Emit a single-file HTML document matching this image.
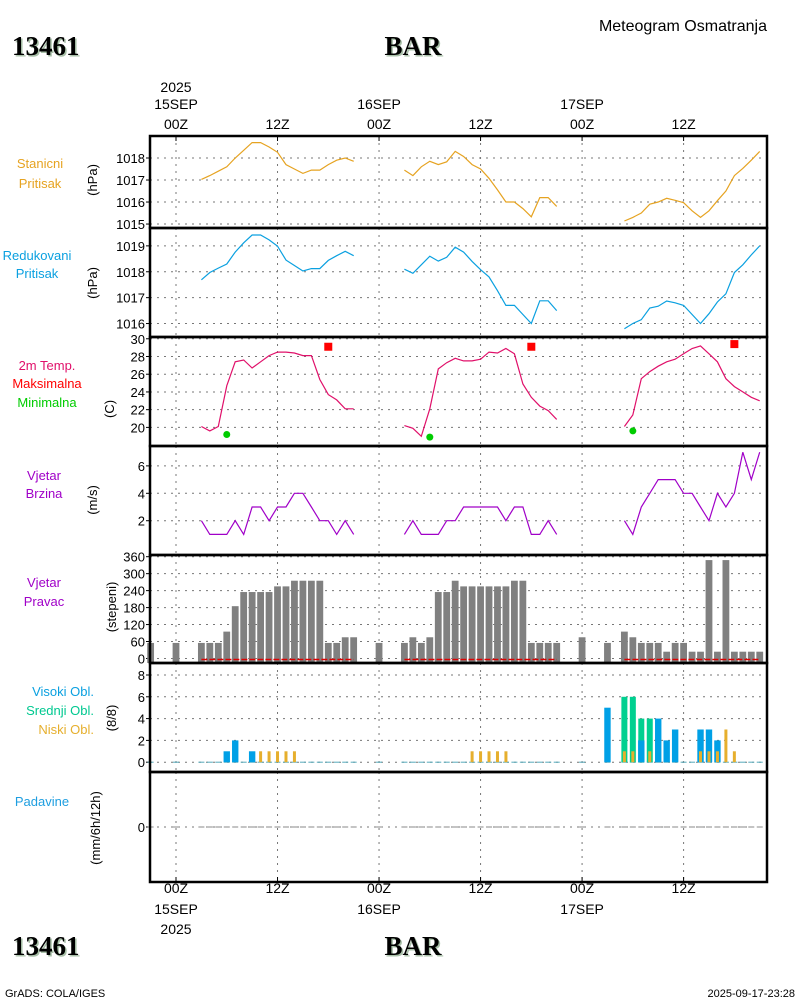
<!DOCTYPE html>
<html><head><meta charset="utf-8"><style>
body{margin:0;background:#fff}
svg{display:block}
</style></head><body>
<svg id="c" width="800" height="1000" viewBox="0 0 800 1000" font-family="Liberation Sans, sans-serif"></svg>
<script>
// ---------- data ----------
const day1H=[3,4,5,6,7,8,9,10,11,12,13,14,15,16,17,18,19,20,21];
const day2H=[27,28,29,30,31,32,33,34,35,36,37,38,39,40,41,42,43,44,45];
const day3H=[53,54,55,56,57,58,59,60,61,62,63,64,65,66,67,68,69];
const stnP1=[1017.03,1017.2,1017.4,1017.6,1018.0,1018.35,1018.7,1018.7,1018.5,1018.26,1017.7,1017.5,1017.3,1017.45,1017.45,1017.7,1017.9,1018.0,1017.85];
const stnP2=[1017.45,1017.2,1017.6,1017.85,1017.7,1017.83,1018.3,1018.07,1017.7,1017.5,1017.08,1016.55,1016.0,1016.0,1015.7,1015.33,1016.2,1016.2,1015.8];
const stnP3=[1015.14,1015.3,1015.5,1015.9,1016.0,1016.17,1016.08,1015.97,1015.6,1015.3,1015.6,1016.06,1016.5,1017.2,1017.53,1017.9,1018.3];
const redP1=[1017.69,1017.97,1018.14,1018.3,1018.76,1019.12,1019.42,1019.42,1019.23,1018.99,1018.45,1018.24,1018.03,1018.12,1018.12,1018.44,1018.62,1018.79,1018.62];
const redP2=[1018.1,1017.94,1018.27,1018.6,1018.41,1018.56,1018.95,1018.76,1018.4,1018.08,1017.8,1017.27,1016.7,1016.7,1016.35,1016.0,1016.88,1016.88,1016.5];
const redP3=[1015.8,1016.0,1016.15,1016.6,1016.67,1016.87,1016.8,1016.7,1016.35,1016.0,1016.38,1016.83,1017.15,1017.97,1018.27,1018.65,1019.0];
const temp1=[20.1,19.6,20.1,24.7,27.4,27.6,26.7,27.4,28.1,28.5,28.5,28.4,28.1,28.1,25.4,23.7,23.1,22.1,22.1];
const temp2=[20.2,19.9,19.0,22.1,26.6,27.3,27.8,27.5,27.5,27.7,28.5,28.4,28.9,28.3,24.9,23.4,22.4,21.9,20.9];
const temp3=[20.1,21.4,25.5,26.3,26.9,27.4,27.7,28.3,28.9,29.2,28.3,27.4,25.5,24.6,24.0,23.4,23.0];
const maxH=[18,42,66], maxT=[29.1,29.1,29.4];
const minH=[6,30,54], minT=[19.2,18.9,19.6];
const wind1=[2,1,1,1,2,1,3,3,2,3,3,4,4,3,2,2,1,2,1];
const wind2=[1,2,1,1,1,2,2,3,3,3,3,3,2,3,3,1,1,2,1];
const wind3=[2,1,3,4,5,5,5,4,4,3,2,4,3,4,7,5,7];
const dirH=[-3,0,3,4,5,6,7,8,9,10,11,12,13,14,15,16,17,18,19,20,21,24,27,28,29,30,31,32,33,34,35,36,37,38,39,40,41,42,43,44,45,48,51,53,54,55,56,57,58,59,60,61,62,63,64,65,66,67,68,69];
const dirV=[55,55,55,55,55,95,185,235,235,235,235,255,255,275,275,275,275,55,55,75,75,55,55,75,55,75,235,235,275,255,255,255,255,255,255,275,275,55,55,55,55,75,55,95,75,55,55,55,24,55,55,24,24,348,24,348,24,24,24,24];
const cloudH=[6,7,9,10,11,12,13,14,35,36,37,38,39,51,53,54,55,56,57,58,59,62,63,64,65,66];
const highC=[1,2,1,0,0,0,0,0,0,0,0,0,0,5,0,0,2,0,4,2,3,3,3,2,0,0];
const midC =[0,0,0,0,0,0,0,0,0,0,0,0,0,0,6,6,4,4,0,0,0,0,0,0,0,0];
const lowC =[0,0,0,1,1,1,1,1,1,1,1,1,1,0,1,1,0,1,0,0,0,1,1,1,3,1];
const allH=[-3,0].concat(day1H,[24],day2H,[48,51],day3H);
// ---------- helpers ----------
const S=document.getElementById('c');const NS='http://www.w3.org/2000/svg';
function el(t,a,p){const e=document.createElementNS(NS,t);for(const k in a)e.setAttribute(k,a[k]);(p||S).appendChild(e);return e;}
function tx(s,x,y,a){const e=el('text',Object.assign({x:x,y:y,'font-size':13,fill:'#000'},a));e.textContent=s;return e;}
const X=h=>176+h*8.46;
const L=150,R=767;
const panels=[
 {t:136,b:228,y0:1014.82,y1:1019.0,ticks:[1015,1016,1017,1018],unit:'(hPa)',uy:180},
 {t:228,b:337,y0:1015.48,y1:1019.69,ticks:[1016,1017,1018,1019],unit:'(hPa)',uy:283},
 {t:337,b:446,y0:17.9,y1:30.2,ticks:[20,22,24,26,28,30],unit:'(C)',uy:409},
 {t:446,b:555,y0:-0.5,y1:7.45,ticks:[2,4,6],unit:'(m/s)',uy:500},
 {t:555,b:663,y0:-16,y1:366,ticks:[0,60,120,180,240,300,360],unit:'(stepeni)',uy:607},
 {t:663,b:772,y0:-0.9,y1:9.1,ticks:[0,2,4,6,8],unit:'(8/8)',uy:718},
 {t:772,b:882,y0:-1,y1:1,ticks:[0],unit:'(mm/6h/12h)',uy:828}
];
panels.forEach(p=>{p.Y=v=>p.b-(v-p.y0)/(p.y1-p.y0)*(p.b-p.t);});
const names=['station-pressure','reduced-pressure','temperature','wind-speed','wind-direction','clouds','precipitation'];
const grid=[0,12,24,36,48,60];
panels.forEach((p,i)=>{
 const g=el('g',{});
 grid.forEach(h=>{el('line',{x1:X(h),x2:X(h),y1:p.t,y2:p.b,stroke:'#777','stroke-dasharray':'2,5'},g);});
 p.ticks.forEach(v=>{const y=p.Y(v);
  el('line',{x1:L,x2:R,y1:y,y2:y,stroke:'#777','stroke-dasharray':'2,5'},g);
  el('line',{x1:L-4,x2:L,y1:y,y2:y,stroke:'#000'},g);
  const t=tx(String(v),145,y+5,{'text-anchor':'end'});});
 const u=tx(p.unit,0,0,{'text-anchor':'middle',transform:`translate(${i==6?100:(i>=4?116:(i==2?114:97))},${p.uy}) rotate(-90)`});
 
});
function line(p,hs,vs,col,name){const pts=hs.map((h,i)=>X(h).toFixed(1)+','+p.Y(vs[i]).toFixed(1)).join(' ');
 const e=el('polyline',{points:pts,fill:'none',stroke:col,'stroke-width':1.2});}
const P=panels;
dirH.forEach((h,i)=>{const y=P[4].Y(dirV[i]);
 const r=el('rect',{x:X(h)-3.4,y:y,width:6.8,height:Math.max(0,P[4].b-y),fill:'#808080'});});
[[day1H,stnP1,redP1,temp1,wind1],[day2H,stnP2,redP2,temp2,wind2],[day3H,stnP3,redP3,temp3,wind3]].forEach((d,k)=>{
 line(P[0],d[0],d[1],'#e6a321','station-pressure-line');
 line(P[1],d[0],d[2],'#0aa0e0','reduced-pressure-line');
 line(P[2],d[0],d[3],'#e0106a','temperature-line');
 line(P[3],d[0],d[4],'#a000c8','wind-speed-line');
 const r=el('line',{x1:X(d[0][0]),x2:X(d[0][d[0].length-1]),y1:P[4].Y(0)+1,y2:P[4].Y(0)+1,stroke:'#d00','stroke-width':1.5,'stroke-dasharray':'6,2'});
 
});
maxH.forEach((h,i)=>{const r=el('rect',{x:X(h)-4,y:P[2].Y(maxT[i])-4,width:8,height:8,fill:'#f00'});});
minH.forEach((h,i)=>{const c=el('circle',{cx:X(h),cy:P[2].Y(minT[i]),r:3.5,fill:'#0c0'});});
allH.forEach(h=>{
 const a=el('line',{x1:X(h)-3,x2:X(h)+3,y1:P[5].Y(0),y2:P[5].Y(0),stroke:'#5ab'});
 const b=el('line',{x1:X(h)-3,x2:X(h)+3,y1:P[6].Y(0),y2:P[6].Y(0),stroke:'#888'});
});
cloudH.forEach((h,i)=>{const z=P[5].Y(0);
 if(midC[i]){const y=P[5].Y(midC[i]);const r=el('rect',{x:X(h)-3,y:y,width:6,height:z-y,fill:'#00d090'});}
 if(highC[i]){const y=P[5].Y(highC[i]);const r=el('rect',{x:X(h)-3.2,y:y,width:6.4,height:z-y,fill:'#00a0e6'});}
 if(lowC[i]){const y=P[5].Y(lowC[i]);const r=el('rect',{x:X(h)-1.5,y:y,width:3,height:z-y,fill:'#e6af2d'});}
});
panels.forEach(p=>{el('rect',{x:L,y:p.t,width:R-L,height:p.b-p.t,fill:'none',stroke:'#000','stroke-width':2.5});});
// time axis
const tl=[[0,'00Z','15SEP','2025'],[12,'12Z'],[24,'00Z','16SEP'],[36,'12Z'],[48,'00Z','17SEP'],[60,'12Z']];
tl.forEach(t=>{const x=X(t[0]);
 el('line',{x1:x,x2:x,y1:136,y2:141,stroke:'#000'});el('line',{x1:x,x2:x,y1:877,y2:882,stroke:'#000'});
 const a=tx(t[1],x,129,{'text-anchor':'middle','font-size':14});
 const b=tx(t[1],x,893,{'text-anchor':'middle','font-size':14});
 if(t[2]){tx(t[2],x,109,{'text-anchor':'middle','font-size':14});tx(t[2],x,914,{'text-anchor':'middle','font-size':14});}
 if(t[3]){tx(t[3],x,92,{'text-anchor':'middle','font-size':14});tx(t[3],x,934,{'text-anchor':'middle','font-size':14});}
});
function title(s,x,y,a){tx(s,x+1.5,y+1.5,Object.assign({'font-family':'Liberation Serif, serif','font-weight':'bold','font-size':27,fill:'#a8c0a8'},a));
 const t=tx(s,x,y,Object.assign({'font-family':'Liberation Serif, serif','font-weight':'bold','font-size':27},a));}
title('13461',12,55,{});title('BAR',413,55,{'text-anchor':'middle'});
title('13461',12,955,{});title('BAR',413,955,{'text-anchor':'middle'});
tx('Meteogram Osmatranja',767,31,{'text-anchor':'end','font-size':16});
tx('GrADS: COLA/IGES',5,997,{'font-size':11});
tx('2025-09-17-23:28',795,997,{'text-anchor':'end','font-size':11});
const labs=[['Stanicni',40,168,'#e6a321'],['Pritisak',40,188,'#e6a321'],['Redukovani',37,260,'#0aa0e0'],['Pritisak',37,278,'#0aa0e0'],
 ['2m Temp.',47,370,'#e0106a'],['Maksimalna',47,388,'#f00'],['Minimalna',47,407,'#0c0'],
 ['Vjetar',44,480,'#a000c8'],['Brzina',44,498,'#a000c8'],['Vjetar',44,587,'#a000c8'],['Pravac',44,606,'#a000c8']];
labs.forEach(l=>{const t=tx(l[0],l[1],l[2],{'text-anchor':'middle',fill:l[3],'font-size':13});});
[['Visoki Obl.',696,'#0aa0e0'],['Srednji Obl.',715,'#00c890'],['Niski Obl.',734,'#e6af2d']].forEach(l=>{const t=tx(l[0],94,l[1],{'text-anchor':'end',fill:l[2],'font-size':13});});
const pd=tx('Padavine',42,806,{'text-anchor':'middle',fill:'#1e9ee0','font-size':13});
</script>
</body></html>
